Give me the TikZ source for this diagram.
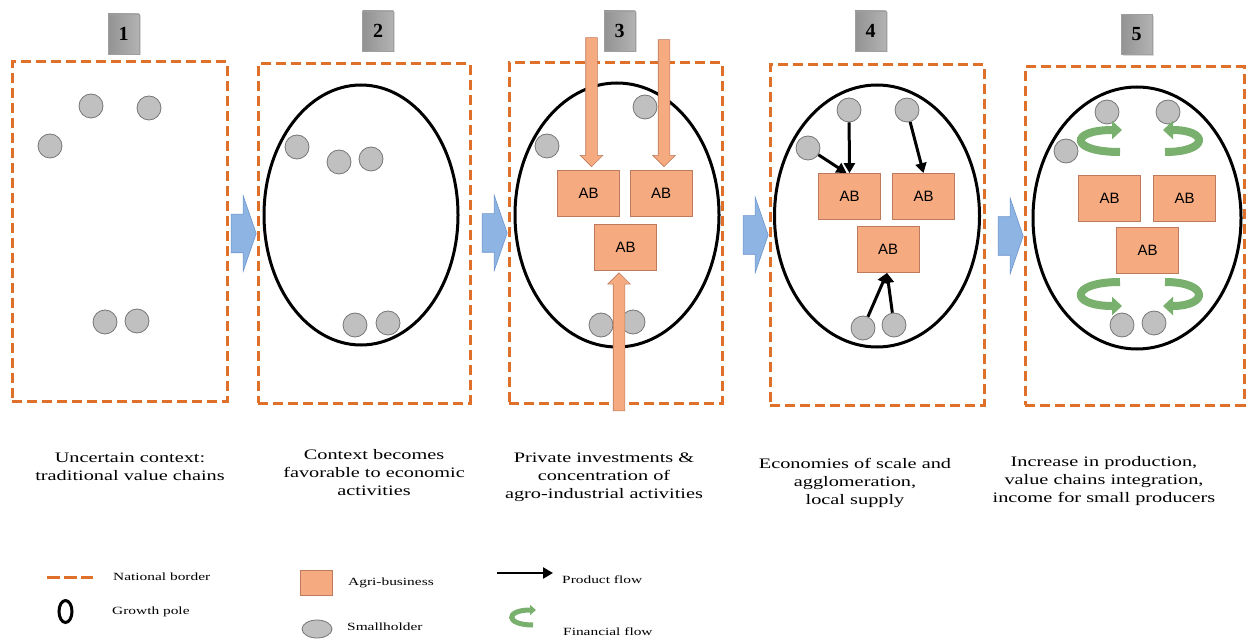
\documentclass[tikz,border=0pt]{standalone}
\usepackage{fontspec}
\setmainfont{Liberation Serif}
\newfontfamily\capfont[FakeStretch=1.4]{Liberation Serif}
\newfontfamily\abfont{Liberation Sans}
\usetikzlibrary{shapes.geometric,shapes.arrows,arrows.meta,shadows}

\definecolor{bordercol}{RGB}{222,112,42}
\definecolor{abfill}{RGB}{245,170,128}
\definecolor{abdraw}{RGB}{190,122,92}
\definecolor{holdfill}{RGB}{192,192,192}
\definecolor{holddraw}{RGB}{118,118,118}
\definecolor{stagefill}{RGB}{141,180,226}
\definecolor{stagedraw}{RGB}{108,148,204}
\definecolor{fingreen}{RGB}{122,176,110}

\begin{document}
\begin{tikzpicture}[x=1pt,y=1pt,
  border/.style={draw=bordercol,line width=3pt,dash pattern=on 10pt off 5pt,inner sep=0},
  pole/.style={ellipse,draw,line width=3pt,inner sep=0},
  holder/.style={circle,fill=holdfill,draw=holddraw,line width=0.8pt,minimum size=24pt,inner sep=0},
  abbox/.style={rectangle,fill=abfill,draw=abdraw,line width=0.8pt,minimum width=62pt,minimum height=46pt,
    font=\abfont\fontsize{15}{15}\selectfont},
  numbox/.style={rectangle,draw=gray!75,left color=gray!85,middle color=gray!25,right color=gray!60,
    minimum width=31pt,minimum height=40pt,inner sep=0,font=\bfseries\fontsize{20}{20}\selectfont,
    drop shadow={opacity=0.3,shadow xshift=1.5pt,shadow yshift=-1.5pt}},
  stagearrow/.style={single arrow,fill=stagefill,draw=stagedraw,line width=0.6pt,minimum height=25pt,minimum width=75pt,
    inner xsep=0,inner ysep=19pt,single arrow head extend=18.5pt,single arrow tip angle=142},
  invest/.style={single arrow,fill=abfill,draw=abdraw,line width=0.6pt,minimum width=22pt,
    inner sep=5.5pt,single arrow head extend=5.5pt},
  prod/.style={-{Triangle[width=11pt,length=10pt]},line width=3pt},
  finflow/.style={-{Triangle[width=18pt,length=10pt]},line width=8pt,draw=fingreen},
  caption/.style={align=center,font=\capfont\fontsize{14.5}{18}\selectfont},
  legtext/.style={anchor=west,inner sep=0,font=\capfont\fontsize{11}{13}\selectfont}]
\useasboundingbox (0,0) rectangle (1248,641);

% national borders
\node[border,minimum width=215pt,minimum height=339pt] (p1) at (119.5,409.5) {};
\node[border,minimum width=212pt,minimum height=339pt] (p2) at (364,407.5) {};
\node[border,minimum width=213pt,minimum height=340pt] (p3) at (615.5,408) {};
\node[border,minimum width=214pt,minimum height=340pt] (p4) at (877,406) {};
\node[border,minimum width=219pt,minimum height=338pt] (p5) at (1134.5,405) {};

\foreach \n/\x/\y in {1/123.5/607,2/378/610,3/619.5/610,4/870.5/610,5/1136.5/606.5}
  \node[numbox] (n\n) at (\x,\y) {\n};

\foreach \i in {2,...,5}
  \node[stagearrow,anchor=tip] (s\i) at (p\i.west) {};

% growth poles
\node[pole,minimum width=194pt,minimum height=260pt] (e2) at (361,426) {};
\node[pole,minimum width=204pt,minimum height=264pt] (e3) at (617,426) {};
\node[pole,minimum width=205pt,minimum height=262pt] (e4) at (877,425) {};
\node[pole,minimum width=208pt,minimum height=262pt] (e5) at (1137,423) {};

% smallholders
\foreach \n/\x/\y in {11/91/535,12/149/533,13/50/495,14/105/319,15/137/320,
    21/297/494,22/339/479,23/371/482,24/355/316,25/388/318,
    31/547/495,32/645/534,33/601/316,34/633/319,
    41/849/531,42/907/531,43/808/493,44/863/313,45/894/316,
    51/1107/529,52/1168/529,53/1066/490,54/1122/316,55/1154/318}
  \node[holder] (c\n) at (\x,\y) {};

% agri-businesses
\node[abbox] (b31) at (588.5,447.5) {AB};
\node[abbox] (b32) at (661,447.5) {AB};
\node[abbox] (b33) at (625.5,394) {AB};
\node[abbox] (b41) at (849.5,444.5) {AB};
\node[abbox] (b42) at (923.5,444.5) {AB};
\node[abbox] (b43) at (888,391.5) {AB};
\node[abbox] (b51) at (1109.5,442.5) {AB};
\node[abbox] (b52) at (1184.5,442.5) {AB};
\node[abbox] (b53) at (1147.5,390.5) {AB};

% investments
\node[invest,shape border rotate=270,minimum height=129pt,anchor=tip] (i1) at ([xshift=3pt,yshift=3pt]b31.north) {};
\node[invest,shape border rotate=270,minimum height=127pt,anchor=tip] (i2) at ([xshift=3pt,yshift=3pt]b32.north) {};
\node[invest,shape border rotate=90,minimum height=138pt,anchor=tip] (i3) at ([xshift=-6.5pt,yshift=-2pt]b33.south) {};

% product flows
\draw[prod] (c41) -- (b41.north);
\draw[prod] (c43) -- ([xshift=-3pt]b41.north);
\draw[prod] (c42) -- (b42.north);
\draw[prod] (c44) -- ([xshift=-1pt]b43.south);
\draw[prod] (c45) -- ([xshift=-1pt]b43.south);

% financial flows
\draw[finflow] (1120,489) .. controls (1069,489) and (1069,511) .. (1122,511);
\draw[finflow] (1165,489) .. controls (1209,489) and (1209,511) .. (1163,511);
\draw[finflow] (1120,359) .. controls (1069,359) and (1069,335) .. (1122,335);
\draw[finflow] (1165,359) .. controls (1209,359) and (1209,335) .. (1163,335);

% captions
\node[caption] (cap1) at (130,174) {Uncertain context:\\traditional value chains};
\node[caption] (cap2) at (374,168) {Context becomes\\favorable to economic\\activities};
\node[caption] (cap3) at (604,163.5) {Private investments \&\\concentration of\\agro-industrial activities};
\node[caption] (cap4) at (855,158.5) {Economies of scale and\\agglomeration,\\local supply};
\node[caption] (cap5) at (1104,159.5) {Increase in production,\\value chains integration,\\income for small producers};

% legend
\coordinate (lb1) at (47,64);
\coordinate (lb2) at (93,64);
\draw[draw=bordercol,line width=3pt,dash pattern=on 13pt off 4pt] (lb1) -- (lb2);
\node[legtext] (l1) at (113,64) {National border};
\node[pole,line width=3pt,minimum width=13pt,minimum height=22pt] (l2s) at (65.5,29.5) {};
\node[legtext] (l2) at (112,29) {Growth pole};
\node[abbox,minimum width=32pt,minimum height=25pt] (l3s) at (316,58.5) {};
\node[legtext] (l3) at (348,58) {Agri-business};
\node[ellipse,fill=holdfill,draw=holddraw,line width=0.8pt,minimum width=30pt,minimum height=18pt,inner sep=0] (l4s) at (317,12) {};
\node[legtext] (l4) at (347,14) {Smallholder};
\coordinate (lp1) at (497,68);
\coordinate (lp2) at (553,68);
\draw[prod,line width=2.5pt] (lp1) -- (lp2);
\node[legtext] (l5) at (562,61) {Product flow};
\coordinate (lf1) at (533,16);
\coordinate (lf2) at (536,31);
\draw[finflow,line width=5pt,-{Triangle[width=10pt,length=6pt]}] (lf1) .. controls (505,16) and (505,31) .. (lf2);
\node[legtext] (l6) at (563,9) {Financial flow};
\end{tikzpicture}
\end{document}
